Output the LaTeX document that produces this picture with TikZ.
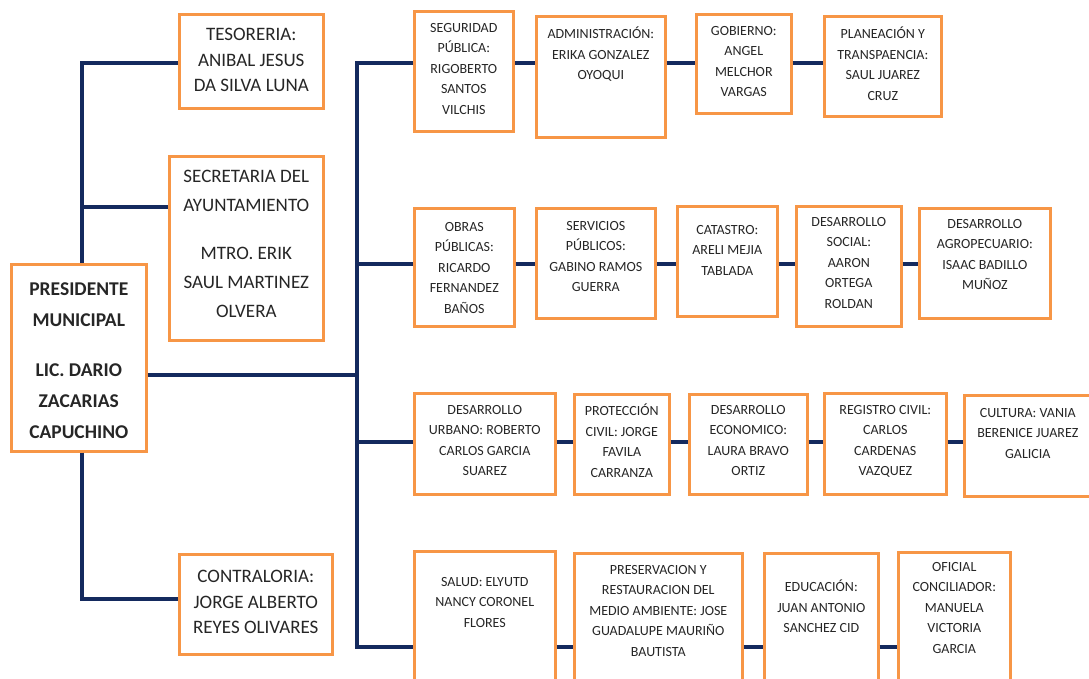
\documentclass[tikz,border=0pt]{standalone}
\usepackage{fontspec}
\setmainfont{Carlito}
\usetikzlibrary{positioning}
\definecolor{rim}{HTML}{F79646}
\definecolor{navy}{HTML}{142A5E}
\definecolor{ink}{HTML}{262626}
% box from top left (x1,y1) to bottom right (x2,y2), in pixels
\newcommand{\deptbox}[5]{\node[dept,minimum width=#4pt-#2pt,minimum height=#5pt-#3pt,anchor=north west] (#1) at (#2,#3) {};}

\begin{document}
\begin{tikzpicture}[x=1pt,y=-1pt,
  dept/.style={draw=rim,line width=2.6pt,inner sep=0pt},
  deptname/.style={font=\fontsize{14}{20.5}\selectfont,align=center,text=ink,inner sep=0pt},
  headname/.style={font=\fontsize{19}{25.5}\selectfont,align=center,text=ink,inner sep=0pt},
  link/.style={draw=navy,line width=4.5pt}]
  \clip (0,0) rectangle (1089,679);
  \fill[white] (0,0) rectangle (1089,679);

  % left column
  \deptbox{presi}{10}{263}{145}{450}
  \deptbox{teso}{178}{13}{322}{107}
  \deptbox{secre}{168}{155}{322}{339}
  \deptbox{contra}{178}{553}{331}{653}
  \node[headname,font=\fontsize{19.5}{31}\selectfont\bfseries,below=20pt of presi.north] (presi-t) {PRESIDENTE\\MUNICIPAL\\[19pt]LIC. DARIO\\ZACARIAS\\CAPUCHINO};
  \node[headname,below=15pt of teso.north] (teso-t) {TESORERIA:\\ANIBAL JESUS\\DA SILVA LUNA};
  \node[headname,font=\fontsize{19}{29}\selectfont,below=15pt of secre.north] (secre-t) {SECRETARIA DEL\\AYUNTAMIENTO\\[19pt]MTRO. ERIK\\SAUL MARTINEZ\\OLVERA};
  \node[headname,below=17pt of contra.north] (contra-t) {CONTRALORIA:\\JORGE ALBERTO\\REYES OLIVARES};

  % first row
  \deptbox{segu}{413}{10}{512}{130}
  \deptbox{admin}{535}{15}{664}{136}
  \deptbox{gobi}{695}{13}{790}{112}
  \deptbox{plane}{823}{15}{940}{115}
  \node[deptname,below=13pt of segu.north] (segu-t) {SEGURIDAD\\PÚBLICA:\\RIGOBERTO\\SANTOS\\VILCHIS};
  \node[deptname,below=12pt of admin.north] (admin-t) {ADMINISTRACIÓN:\\ERIKA GONZALEZ\\OYOQUI};
  \node[deptname,below=13pt of gobi.north] (gobi-t) {GOBIERNO:\\ANGEL\\MELCHOR\\VARGAS};
  \node[deptname,below=12pt of plane.north] (plane-t) {PLANEACIÓN Y\\TRANSPAENCIA:\\SAUL JUAREZ\\CRUZ};

  % second row
  \deptbox{obras}{413}{207}{513}{325}
  \deptbox{servi}{535}{207}{654}{317}
  \deptbox{catas}{676}{205}{776}{315}
  \deptbox{social}{795}{205}{900}{325}
  \deptbox{agro}{918}{207}{1049}{317}
  \node[deptname,below=15pt of obras.north] (obras-t) {OBRAS\\PÚBLICAS:\\RICARDO\\FERNANDEZ\\BAÑOS};
  \node[deptname,below=14pt of servi.north] (servi-t) {SERVICIOS\\PÚBLICOS:\\GABINO RAMOS\\GUERRA};
  \node[deptname,below=20pt of catas.north] (catas-t) {CATASTRO:\\ARELI MEJIA\\TABLADA};
  \node[deptname,below=12pt of social.north] (social-t) {DESARROLLO\\SOCIAL:\\AARON\\ORTEGA\\ROLDAN};
  \node[deptname,below=12pt of agro.north] (agro-t) {DESARROLLO\\AGROPECUARIO:\\ISAAC BADILLO\\MUÑOZ};

  % third row
  \deptbox{urbano}{413}{392}{554}{493}
  \deptbox{prote}{573}{393}{668}{493}
  \deptbox{econo}{688}{393}{806}{493}
  \deptbox{regis}{823}{392}{945}{493}
  \deptbox{cultu}{963}{394}{1100}{495}
  \node[deptname,below=13pt of urbano.north] (urbano-t) {DESARROLLO\\URBANO: ROBERTO\\CARLOS GARCIA\\SUAREZ};
  \node[deptname,below=11pt of prote.north] (prote-t) {PROTECCIÓN\\CIVIL: JORGE\\FAVILA\\CARRANZA};
  \node[deptname,below=12pt of econo.north] (econo-t) {DESARROLLO\\ECONOMICO:\\LAURA BRAVO\\ORTIZ};
  \node[deptname,below=13pt of regis.north] (regis-t) {REGISTRO CIVIL:\\CARLOS\\CARDENAS\\VAZQUEZ};
  \node[deptname,below=14pt of cultu.north,xshift=-5pt] (cultu-t) {CULTURA: VANIA\\BERENICE JUAREZ\\GALICIA};

  % fourth row
  \deptbox{salud}{413}{550}{554}{700}
  \deptbox{preser}{573}{552}{741}{700}
  \deptbox{educa}{763}{552}{877}{700}
  \deptbox{ofici}{897}{551}{1009}{700}
  \node[deptname,below=27pt of salud.north] (salud-t) {SALUD: ELYUTD\\NANCY CORONEL\\FLORES};
  \node[deptname,below=13pt of preser.north] (preser-t) {PRESERVACION Y\\RESTAURACION DEL\\MEDIO AMBIENTE: JOSE\\GUADALUPE MAURIÑO\\BAUTISTA};
  \node[deptname,below=28pt of educa.north] (educa-t) {EDUCACIÓN:\\JUAN ANTONIO\\SANCHEZ CID};
  \node[deptname,below=11pt of ofici.north] (ofici-t) {OFICIAL\\CONCILIADOR:\\MANUELA\\VICTORIA\\GARCIA};

  % bus points
  \coordinate (l1) at (82,63);
  \coordinate (l2) at (82,207);
  \coordinate (l3) at (82,599);
  \coordinate (r0) at (357,375);
  \coordinate (r1) at (357,63);
  \coordinate (r2) at (357,264);
  \coordinate (r3) at (357,442);
  \coordinate (r4) at (357,647);

  % connectors
  \draw[link] (teso.west |- l1) -- (l1) -- (l1 |- presi.north);
  \draw[link] (l2) -- (l2 -| secre.west);
  \draw[link] (l3 |- presi.south) -- (l3) -- (l3 -| contra.west);
  \draw[link] (r0 -| presi.east) -- (r0);
  \draw[link] (segu.west |- r1) -- (r1) -- (r4) -- (salud.west |- r4);
  \draw[link] (r2) -- (r2 -| obras.west);
  \draw[link] (r3) -- (r3 -| urbano.west);
  \foreach \a/\b in {segu/admin,admin/gobi,gobi/plane}{\draw[link] (\a.east |- r1) -- (\b.west |- r1);}
  \foreach \a/\b in {obras/servi,servi/catas,catas/social,social/agro}{\draw[link] (\a.east |- r2) -- (\b.west |- r2);}
  \foreach \a/\b in {urbano/prote,prote/econo,econo/regis,regis/cultu}{\draw[link] (\a.east |- r3) -- (\b.west |- r3);}
  \foreach \a/\b in {salud/preser,preser/educa,educa/ofici}{\draw[link] (\a.east |- r4) -- (\b.west |- r4);}
\end{tikzpicture}
\end{document}
